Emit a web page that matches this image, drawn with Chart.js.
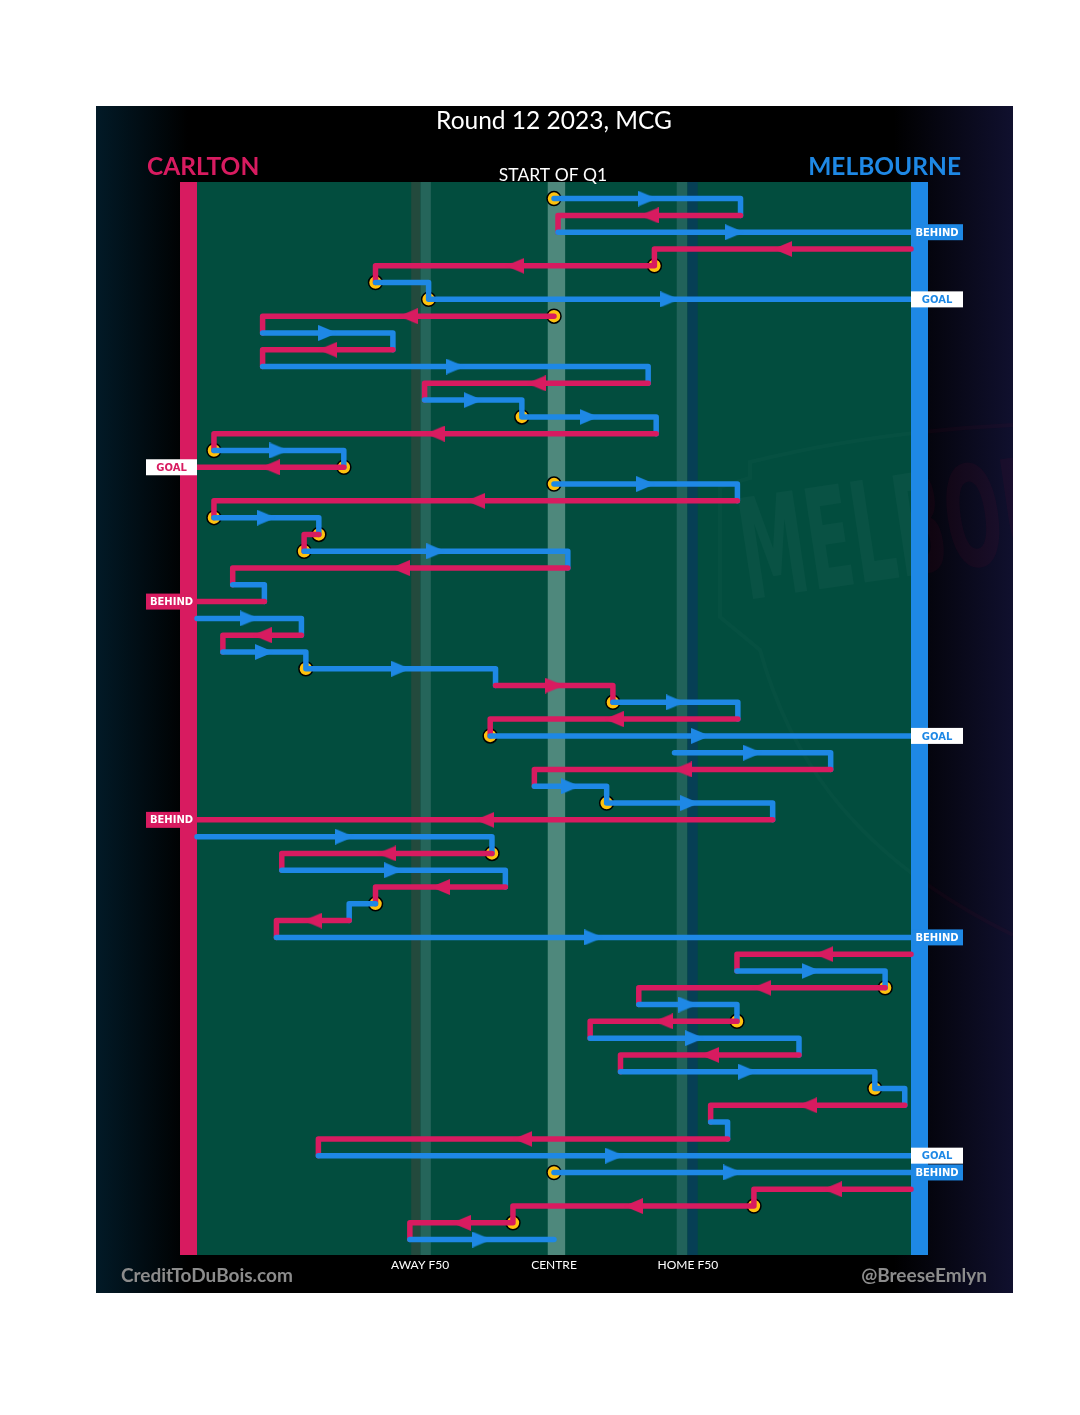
<!DOCTYPE html>
<html>
<head>
<meta charset="utf-8">
<script src="https://cdn.jsdelivr.net/npm/chart.js@4.4.0/dist/chart.umd.min.js"></script>
<style>
    html, body { margin: 0; padding: 0; background: #ffffff; }
    canvas { display: block; }
</style>
</head>
<body>
<canvas id="chainChart" width="1080" height="1415"></canvas>
<script>
// one row per disposal chain step, position in metres from centre
// (-80 = Carlton goal, +80 = Melbourne goal)
const rowTeam = ['M', 'C', 'M', 'C', 'C', 'M', 'M', 'C', 'M', 'C',
    'M', 'C', 'M', 'M', 'C', 'M', 'C', 'M', 'C', 'M',
    'C', 'M', 'C', 'M', 'C', 'M', 'C', 'M', 'M', 'C',
    'M', 'C', 'M', 'M', 'C', 'M', 'M', 'C', 'M', 'C',
    'M', 'C', 'M', 'C', 'M', 'C', 'M', 'C', 'M', 'C',
    'M', 'C', 'M', 'M', 'C', 'M', 'C', 'M', 'M', 'C',
    'C', 'C', 'M'];
const rowStart = [0, 41.8, 0.9, 80, 22.5, -40, -28.1, 0, -65.3, -36.1,
    -65.3, 21.1, -29, -7.2, 22.9, -76.2, -47.1, 0, 41.1, -76.2,
    -52.7, -56, 3.1, -72, -64.9, -80, -56.6, -74.2, -55.6, -13.1,
    13.2, 41.2, -14.3, 27, 62, -4.4, 11.8, 49, -80, -13.9,
    -61, -10.9, -40, -45.9, -62.2, 80, 41, 74.2, 19, 41,
    8.1, 54.9, 14.9, 71.9, 78.6, 35.1, 38.9, -52.8, 0, 80,
    44.8, -9.2, -32.3];
const rowEnd = [41.8, 0.9, 80, 22.5, -40, -28.1, 80, -65.3, -36.1, -65.3,
    21.1, -29, -7.2, 22.9, -76.2, -47.1, -80, 41.1, -76.2, -52.7,
    -56, 3.1, -72, -64.9, -80, -56.6, -74.2, -55.6, -13.1, 13.2,
    41.2, -14.3, 80, 62, -4.4, 11.8, 49, -80, -13.9, -61,
    -10.9, -40, -45.9, -62.2, 80, 41, 74.2, 19, 41, 8.1,
    54.9, 14.9, 71.9, 78.6, 35.1, 38.9, -52.8, 80, 80, 44.8,
    -9.2, -32.3, 0];
// rows that start from a contest / stoppage (yellow marker)
const stoppageRows = [0, 4, 5, 6, 7, 13, 15, 16, 17, 19, 20, 21, 28, 30, 32, 36, 39, 42, 47, 49, 53, 58, 60, 61];
// scoring shots
const resultRows = [2, 6, 16, 24, 32, 37, 44, 57, 58];
const resultType = ['BEHIND', 'GOAL', 'GOAL', 'BEHIND', 'GOAL', 'BEHIND', 'BEHIND', 'GOAL', 'BEHIND'];
// field markings along the bottom
const fieldMarks = [-30, 0, 30];
const fieldMarkLabels = ['AWAY F50', 'CENTRE', 'HOME F50'];

const teamColour = { C: '#d81b60', M: '#1e88e5' };
const stopColour = '#ffc20e';
const fieldBands = [
    [-32.0, -29.9, '#234a3d'], [-29.9, -27.6, '#25655a'],
    [-1.4, 2.5, '#4e887c'],
    [27.5, 29.9, '#21625a'], [29.9, 32.2, '#063f55']
];

function arrowCanvas(colour, dir) {
    const c = document.createElement('canvas');
    c.width = 19;
    c.height = 16;
    const g = c.getContext('2d');
    g.fillStyle = colour;
    g.beginPath();
    if (dir > 0) {
        g.moveTo(0, 0); g.lineTo(19, 8); g.lineTo(0, 16);
    } else {
        g.moveTo(19, 0); g.lineTo(0, 8); g.lineTo(19, 16);
    }
    g.closePath();
    g.fill();
    return c;
}
const arrows = {
    C: [arrowCanvas(teamColour.C, -1), arrowCanvas(teamColour.C, 1)],
    M: [arrowCanvas(teamColour.M, -1), arrowCanvas(teamColour.M, 1)]
};

// build chains: a row links to the one above unless the previous row was a score
const chains = [];
rowTeam.forEach((team, i) => {
    const linked = i > 0 && !resultRows.includes(i - 1);
    if (!linked) chains.push([]);
    const chain = chains[chains.length - 1];
    chain.push({ x: rowStart[i], y: i, team: team });
    chain.push({ x: rowEnd[i], y: i, team: team });
});

const chainSets = chains.map(chain => ({
    data: chain,
    showLine: true,
    borderColor: teamColour[chain[0].team],
    borderWidth: 5.5,
    borderCapStyle: 'round',
    borderJoinStyle: 'round',
    pointRadius: 0,
    order: 2,
    segment: {
        borderColor: ctx => teamColour[chain[ctx.p0DataIndex].team]
    }
}));

const arrowRows = rowTeam.map((t, i) => i).filter(i => Math.abs(rowEnd[i] - rowStart[i]) > 15.5);
const arrowSet = {
    data: arrowRows.map(i => ({ x: (rowStart[i] + rowEnd[i]) / 2, y: i })),
    pointStyle: arrowRows.map(i => arrows[rowTeam[i]][rowEnd[i] > rowStart[i] ? 1 : 0]),
    pointRadius: 8,
    order: 1
};

const stopSet = {
    data: stoppageRows.map(i => ({ x: rowStart[i], y: i })),
    pointRadius: 7,
    pointBorderWidth: 1.5,
    pointBackgroundColor: stopColour,
    pointBorderColor: '#000000',
    order: 3
};

function drawBadge(ctx, fill, line) {
    ctx.fillStyle = fill;
    ctx.strokeStyle = line;
    ctx.save();
    ctx.font = 'bold 140px "DejaVu Sans"';
    const sx = 156 / ctx.measureText('MEL').width;
    ctx.translate(747, 600);
    ctx.rotate(-0.147);
    ctx.scale(sx, 1);
    ctx.fillText('MELBOURNE', 0, 0);
    ctx.restore();
    // shield outline
    ctx.lineWidth = 4;
    ctx.beginPath();
    ctx.moveTo(1013, 425);
    ctx.quadraticCurveTo(870, 432, 750, 462);
    ctx.lineTo(750, 478);
    ctx.lineTo(720, 487);
    ctx.lineTo(720, 617);
    ctx.lineTo(760, 650);
    ctx.bezierCurveTo(785, 740, 840, 850, 1013, 935);
    ctx.stroke();
}

const fieldPainter = {
    id: 'fieldPainter',
    beforeDatasetsDraw(chart) {
        const { ctx, chartArea: area, scales: { x } } = chart;
        ctx.save();
        ctx.fillStyle = '#ffffff';
        ctx.fillRect(0, 0, chart.width, chart.height);

        // dark panel
        const bg = ctx.createLinearGradient(96, 0, 1013, 0);
        bg.addColorStop(0, '#021a27');
        bg.addColorStop(0.1, '#000000');
        bg.addColorStop(0.87, '#000000');
        bg.addColorStop(1, '#10102e');
        ctx.fillStyle = bg;
        ctx.fillRect(96, 106, 917, 1187);

        // field
        ctx.fillStyle = '#024d3e';
        ctx.fillRect(area.left, area.top, area.width, area.height);
        fieldBands.forEach(([a, b, c]) => {
            const p0 = x.getPixelForValue(a);
            const p1 = x.getPixelForValue(b);
            ctx.fillStyle = c;
            ctx.fillRect(p0, area.top, p1 - p0, area.height);
        });

        // faint club badge
        ctx.save();
        ctx.beginPath();
        ctx.rect(area.left, area.top, area.width, area.height);
        ctx.clip();
        drawBadge(ctx, 'rgba(255,255,255,0.03)', 'rgba(255,255,255,0.02)');
        ctx.restore();
        ctx.save();
        ctx.beginPath();
        ctx.rect(area.right, 106, 1013 - area.right, 1187);
        ctx.clip();
        drawBadge(ctx, 'rgba(170,20,60,0.07)', 'rgba(170,20,60,0.05)');
        ctx.restore();

        // team goal bars
        const cl = x.getPixelForValue(-80);
        const ml = x.getPixelForValue(80);
        ctx.fillStyle = teamColour.C;
        ctx.fillRect(area.left, area.top, cl - area.left, area.height);
        ctx.fillStyle = teamColour.M;
        ctx.fillRect(ml, area.top, area.right - ml, area.height);
        ctx.restore();
    },
    afterDatasetsDraw(chart) {
        const { ctx, chartArea: area, scales: { x, y } } = chart;
        ctx.save();

        // score labels
        ctx.font = 'bold 10px "DejaVu Sans"';
        ctx.textAlign = 'center';
        ctx.textBaseline = 'middle';
        resultRows.forEach((row, k) => {
            const team = rowTeam[row];
            const py = y.getPixelForValue(row);
            const isGoal = resultType[k] === 'GOAL';
            const x0 = team === 'M' ? x.getPixelForValue(80) : x.getPixelForValue(-80) - 51;
            const w = team === 'M' ? 52 : 51;
            ctx.fillStyle = isGoal ? '#ffffff' : teamColour[team];
            ctx.fillRect(x0, py - 8, w, 16);
            ctx.fillStyle = isGoal ? teamColour[team] : '#ffffff';
            ctx.fillText(resultType[k], x0 + w / 2, py + 1);
        });

        // titles
        ctx.textBaseline = 'alphabetic';
        ctx.fillStyle = '#ffffff';
        ctx.font = '24.5px Lato';
        ctx.fillText('Round 12 2023, MCG', 554, 129);
        ctx.font = '17.5px Lato';
        ctx.fillText('START OF Q1', 553, 181);

        ctx.font = 'bold 24.5px Lato';
        ctx.textAlign = 'left';
        ctx.fillStyle = teamColour.C;
        ctx.fillText('CARLTON', 147, 175);
        ctx.textAlign = 'right';
        ctx.fillStyle = teamColour.M;
        ctx.fillText('MELBOURNE', 961, 175);

        // field mark labels
        ctx.textAlign = 'center';
        ctx.fillStyle = '#ffffff';
        ctx.font = '12px Lato';
        fieldMarks.forEach((m, i) => {
            ctx.fillText(fieldMarkLabels[i], x.getPixelForValue(m), area.bottom + 14);
        });

        // credits
        ctx.fillStyle = '#8c8c8c';
        ctx.font = 'bold 19px Lato';
        ctx.textAlign = 'left';
        ctx.fillText('CreditToDuBois.com', 121, 1282);
        ctx.textAlign = 'right';
        ctx.fillText('@BreeseEmlyn', 987, 1282);
        ctx.restore();
    }
};

const ctx1 = document.getElementById('chainChart').getContext('2d');
const chainChart = new Chart(ctx1, {
    type: 'scatter',
    data: {
        datasets: [arrowSet, ...chainSets, stopSet]
    },
    options: {
        responsive: false,
        animation: false,
        events: [],
        layout: {
            padding: { left: 180, right: 152, top: 182, bottom: 160 }
        },
        scales: {
            x: { type: 'linear', display: false, min: -83.81, max: 83.81 },
            y: { type: 'linear', display: false, min: -0.99, max: 62.916, reverse: true }
        },
        plugins: {
            legend: { display: false },
            tooltip: { enabled: false }
        }
    },
    plugins: [fieldPainter]
});
</script>
</body>
</html>
